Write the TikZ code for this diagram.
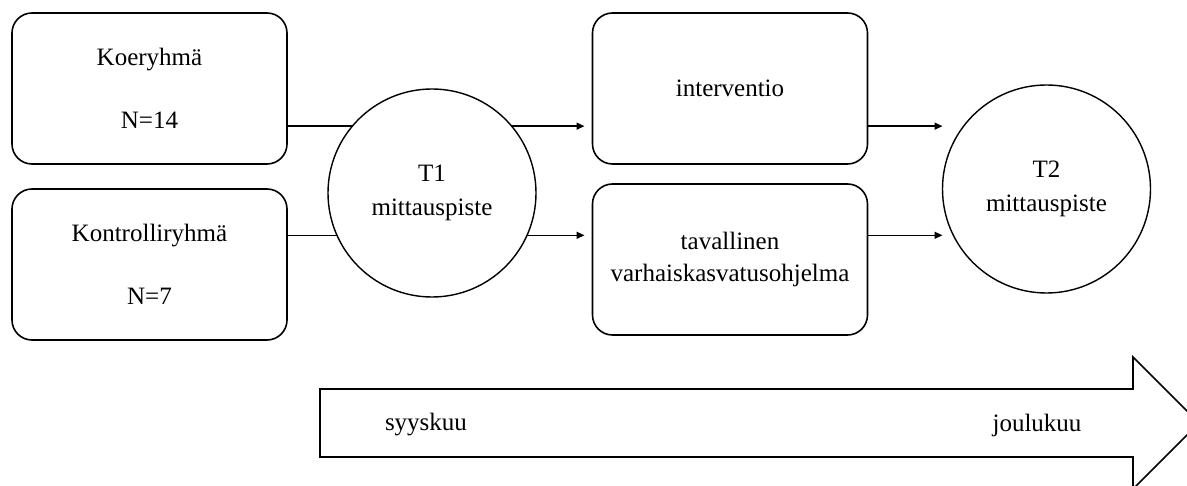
\documentclass[tikz,border=0pt]{standalone}
\usepackage{fontspec}
\setmainfont{Liberation Serif}
\usetikzlibrary{arrows.meta}
\begin{document}
\begin{tikzpicture}[x=1pt,y=-1pt,
  box/.style={draw, line width=1.6pt, rounded corners=20pt, minimum width=275pt, minimum height=151pt, align=center, inner sep=0pt, outer sep=0pt},
  circ/.style={draw, circle, line width=1.4pt, minimum size=208pt, inner sep=0pt, outer sep=0pt, align=center},
  lnk/.style={line width=1.4pt},
  arr/.style={line width=1.4pt, -{Triangle[length=8pt,width=7pt]}},
  font=\fontsize{25}{31.5}\selectfont]
\useasboundingbox (0,0) rectangle (1187,486);
\clip (0,0) rectangle (1187,486);
\node[box] (k) at (149.5,88.5) {Koeryhmä\\[31.5pt]N=14};
\node[box] (c) at (149.5,264.5) {Kontrolliryhmä\\[31.5pt]N=7};
\node[circ] (t1) at (432,193) {T1\\[2pt]mittauspiste};
\node[box] (i) at (730,88.5) {interventio};
\node[box] (v) at (730,259.5) {tavallinen\\varhaiskasvatusohjelma};
\node[circ] (t2) at (1046.5,189) {T2\\[2pt]mittauspiste};
\draw[lnk] (k.east |- t1.140) -- (t1.140);
\draw[lnk] (c.east |- t1.204) -- (t1.204);
\draw[arr, shorten >=8pt] (t1.40) -- (i.west |- t1.40);
\draw[arr, shorten >=8pt] (t1.-24) -- (v.west |- t1.-24);
\draw[arr] (i.east |- t1.40) -- (t2.west |- t1.40);
\draw[arr] (v.east |- t1.-24) -- (t2.west |- t1.-24);
\draw[line width=1.6pt, line join=miter] (320,389) -- (1133,389) -- (1133,357) -- (1199,423) -- (1133,489) -- (1133,457) -- (320,457) -- cycle;
\node (s) at (426,425) {syyskuu};
\node (j) at (1037,425) {joulukuu};
\end{tikzpicture}
\end{document}
